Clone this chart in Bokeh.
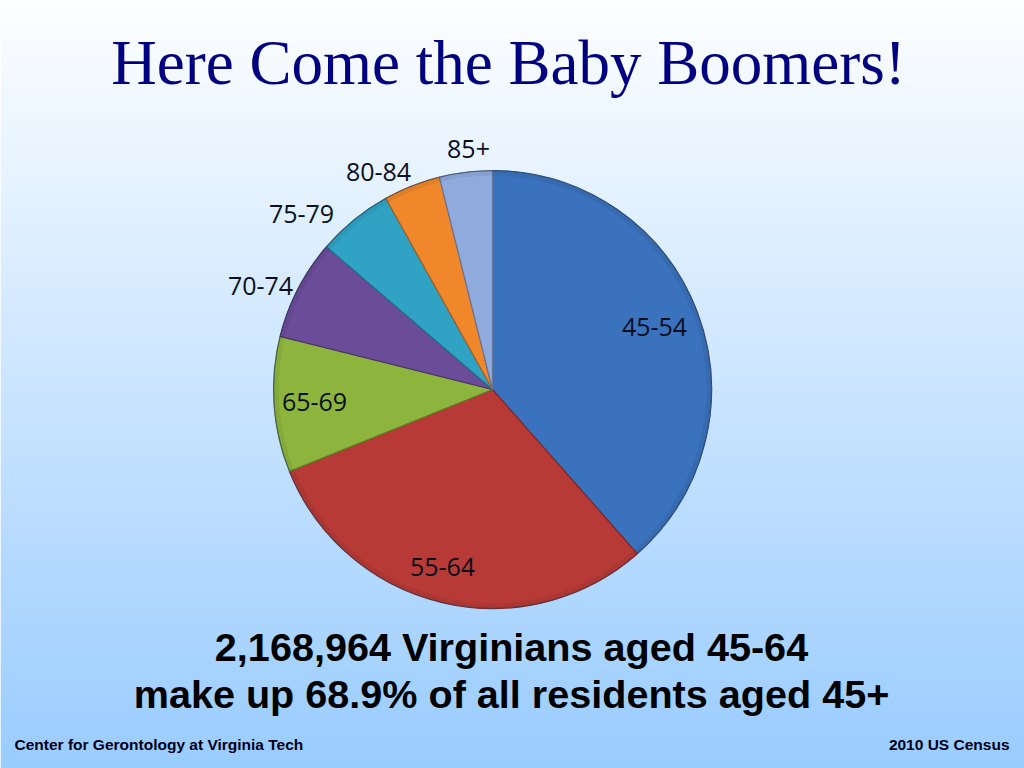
import math
from bokeh.plotting import figure
from bokeh.models import Range1d, ColumnDataSource
from bokeh.core.properties import value
from bokeh.embed import file_html
from bokeh.resources import INLINE

# ---- data ----
categories = ["45-54", "55-64", "65-69", "70-74", "75-79", "80-84", "85+"]
shares = [38.5, 30.4, 10.0, 7.4, 5.6, 4.2, 3.9]
colors = ["#3b72bd", "#b83a36", "#8db53d", "#6b4c99", "#30a3c4", "#f0872b", "#8faadc"]
edge_colors = ["#2b5488", "#7e2826", "#61802a", "#4b356c", "#207289", "#a85e1e", "#63779a"]

title_text = "Here Come the Baby Boomers!"
note_line1 = "2,168,964 Virginians aged 45-64"
note_line2 = "make up 68.9% of all residents aged 45+"
footer_left = "Center for Gerontology at Virginia Tech"
footer_right = "2010 US Census"

# ---- layout ----
W, H = 1024, 768
cx, cy, R = 492, 379, 219
# label offsets from the pie centre (in pixels)
label_dx = [162, -50, -178, -232, -191, -114, -24]
label_dy = [63, -177, -12, 104, 176, 218, 241]

p = figure(width=W, height=H, x_range=Range1d(0, W), y_range=Range1d(0, H),
           output_backend="svg", toolbar_location=None, min_border=0)
p.axis.visible = False
p.grid.visible = False
p.outline_line_color = None
p.border_fill_color = "white"

# background gradient (white at top -> light blue at bottom)
top = (253, 254, 255)
bot = (153, 204, 255)
n = 128
bands_bottom, bands_top, band_colors = [], [], []
for i in range(n):
    y0 = H * i / n
    y1 = H * (i + 1) / n + 0.6
    t = 1 - (i + 0.5) / n
    c = tuple(int(round(top[k] * (1 - t) + bot[k] * t)) for k in range(3))
    bands_bottom.append(y0)
    bands_top.append(y1)
    band_colors.append("#%02x%02x%02x" % c)
p.quad(left=0, right=W, bottom=bands_bottom, top=bands_top, fill_color=band_colors, line_color=None)

# pie
total = sum(shares)
starts, ends = [], []
acc = 0.0
for s in shares:
    starts.append(math.pi / 2 - 2 * math.pi * acc / total)
    acc += s
    ends.append(math.pi / 2 - 2 * math.pi * acc / total)

src = ColumnDataSource(dict(cat=categories, start=starts, end=ends, color=colors, edge=edge_colors))
p.wedge(x=cx, y=cy, radius=R, start_angle="start", end_angle="end", direction="clock",
        fill_color="color", line_color="edge", line_width=1.2, source=src)
# subtle rim shading for a bevelled look
p.annular_wedge(x=cx, y=cy, inner_radius=R - 5, outer_radius=R, start_angle="start", end_angle="end",
                direction="clock", fill_color="black", fill_alpha=0.06, line_color=None, source=src)
p.circle(x=cx, y=cy, radius=R, fill_color=None, line_color="#3a4a66", line_alpha=0.6, line_width=1)

lx = [cx + d for d in label_dx]
ly = [cy + d for d in label_dy]
p.text(x=lx, y=ly, text=categories, text_align="center", text_baseline="middle",
       text_font=value("Open Sans"), text_font_size="25px", text_color="#0a0f1e")

# title
p.text(x=[508], y=[706], text=[title_text], text_align="center", text_baseline="alphabetic",
       text_font=value("Liberation Serif"), text_font_size="63px", text_color="#000080")

# note
p.text(x=[511, 511], y=[122, 75], text=[note_line1, note_line2], text_align="center",
       text_baseline="alphabetic", text_font=value("Liberation Sans"), text_font_style="bold",
       text_font_size="39.6px", text_color="#000000")

# footers
p.text(x=[14], y=[24], text=[footer_left], text_align="left", text_baseline="alphabetic",
       text_font=value("Liberation Sans"), text_font_style="bold", text_font_size="15.5px", text_color="#000018")
p.text(x=[1009], y=[24], text=[footer_right], text_align="right", text_baseline="alphabetic",
       text_font=value("Liberation Sans"), text_font_style="bold", text_font_size="15.5px", text_color="#000018")

open("out.html", "w").write(file_html(p, INLINE))
